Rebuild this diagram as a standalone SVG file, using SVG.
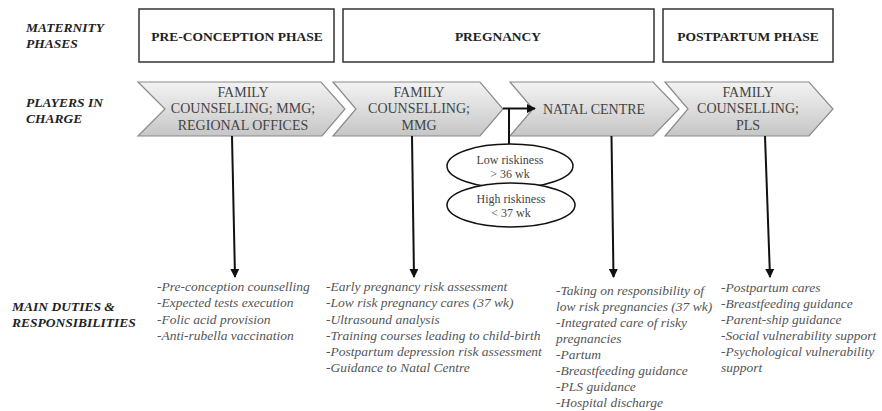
<svg xmlns="http://www.w3.org/2000/svg" width="882" height="411" viewBox="0 0 882 411">
  <defs>
    <linearGradient id="chevFill" x1="0" y1="0" x2="0" y2="1">
      <stop offset="0" stop-color="#f3f3f3"/>
      <stop offset="1" stop-color="#c6c6c6"/>
    </linearGradient>
    <marker id="arrow" viewBox="0 0 10 10" refX="9" refY="5" markerWidth="5" markerHeight="5" orient="auto" markerUnits="userSpaceOnUse">
      <path d="M0,0 L10,5 L0,10 Z" fill="#111"/>
    </marker>
    <marker id="arrowBig" viewBox="0 0 10 10" refX="9" refY="5" markerWidth="9" markerHeight="9" orient="auto" markerUnits="userSpaceOnUse">
      <path d="M0,0 L10,5 L0,10 Z" fill="#111"/>
    </marker>
  </defs>
  <style>
    .rowlabel { font-family: "Liberation Serif", "Times New Roman", serif; font-size: 13.5px; font-weight: bold; font-style: italic; fill: #222; }
    .phase { fill: #fff; stroke: #333; stroke-width: 1.5; }
    .phasetext { font-family: "Liberation Serif", "Times New Roman", serif; font-size: 13.5px; font-weight: bold; fill: #222; text-anchor: middle; }
    .chev { fill: url(#chevFill); stroke: #8a8a8a; stroke-width: 1.2; }
    .chevtext { font-family: "Liberation Serif", "Times New Roman", serif; font-size: 14px; fill: #444; text-anchor: middle; }
    .oval { fill: #fff; stroke: #111; stroke-width: 1.5; }
    .ovaltext { font-family: "Liberation Serif", "Times New Roman", serif; font-size: 12px; fill: #444; text-anchor: middle; }
    .duty { font-family: "Liberation Serif", "Times New Roman", serif; font-size: 13.5px; font-style: italic; fill: #555; }
    .link { stroke: #111; stroke-width: 2; fill: none; }
  </style>

  <!-- Row labels -->
  <g id="row-labels">
    <text class="rowlabel" x="26" y="32">MATERNITY</text>
    <text class="rowlabel" x="26" y="48">PHASES</text>
    <text class="rowlabel" x="26" y="107">PLAYERS IN</text>
    <text class="rowlabel" x="26" y="123">CHARGE</text>
    <text class="rowlabel" x="12" y="311">MAIN DUTIES &amp;</text>
    <text class="rowlabel" x="12" y="327">RESPONSIBILITIES</text>
  </g>

  <!-- Maternity phases -->
  <g id="phase-preconception">
    <rect class="phase" x="139" y="9" width="195" height="53"/>
    <text class="phasetext" x="237" y="41">PRE-CONCEPTION PHASE</text>
  </g>
  <g id="phase-pregnancy">
    <rect class="phase" x="343" y="9" width="311" height="53"/>
    <text class="phasetext" x="498" y="41">PREGNANCY</text>
  </g>
  <g id="phase-postpartum">
    <rect class="phase" x="663" y="9" width="170" height="53"/>
    <text class="phasetext" x="748" y="41">POSTPARTUM PHASE</text>
  </g>

  <!-- Players in charge -->
  <g id="player-family-mmg-regional">
    <polygon class="chev" points="138,82 321,82 345,109 322,136 138,136 165,109"/>
    <text class="chevtext" x="243" y="97">FAMILY</text>
    <text class="chevtext" x="243" y="113">COUNSELLING; MMG;</text>
    <text class="chevtext" x="243" y="130">REGIONAL OFFICES</text>
  </g>
  <g id="player-family-mmg">
    <polygon class="chev" points="333,82 480,82 503,109 480,136 333,136 356,109"/>
    <text class="chevtext" x="419" y="97">FAMILY</text>
    <text class="chevtext" x="419" y="113">COUNSELLING;</text>
    <text class="chevtext" x="419" y="130">MMG</text>
  </g>
  <g id="player-natal-centre">
    <polygon class="chev" points="510,82 653,82 679,109 653,136 510,136 533,109"/>
    <text class="chevtext" x="594" y="114">NATAL CENTRE</text>
  </g>
  <g id="player-family-pls">
    <polygon class="chev" points="665,82 809,82 833,109 809,136 665,136 688,109"/>
    <text class="chevtext" x="748" y="97">FAMILY</text>
    <text class="chevtext" x="748" y="113">COUNSELLING;</text>
    <text class="chevtext" x="748" y="130">PLS</text>
  </g>

  <!-- Connectors -->
  <g id="connectors">
    <line class="link" x1="232" y1="136" x2="235" y2="277" marker-end="url(#arrowBig)"/>
    <line class="link" x1="412" y1="136" x2="414" y2="277" marker-end="url(#arrowBig)"/>
    <line class="link" x1="611.5" y1="136" x2="613.5" y2="277" marker-end="url(#arrowBig)"/>
    <line class="link" x1="765" y1="136" x2="770" y2="277" marker-end="url(#arrowBig)"/>
    <polyline class="link" points="509,146 509,108.5"/>
    <line class="link" x1="503" y1="108.5" x2="535" y2="108.5" marker-end="url(#arrowBig)"/>
  </g>

  <!-- Riskiness split -->
  <g id="risk-low">
    <ellipse class="oval" cx="510" cy="166" rx="63" ry="22"/>
    <text class="ovaltext" x="510" y="164">Low riskiness</text>
    <text class="ovaltext" x="510" y="178">&gt; 36 wk</text>
  </g>
  <g id="risk-high">
    <ellipse class="oval" cx="511" cy="205" rx="64" ry="22"/>
    <text class="ovaltext" x="511" y="203">High riskiness</text>
    <text class="ovaltext" x="511" y="217">&lt; 37 wk</text>
  </g>

  <!-- Main duties & responsibilities -->
  <g id="duties-preconception">
    <text class="duty" x="157" y="291">-Pre-conception counselling</text>
    <text class="duty" x="157" y="307">-Expected tests execution</text>
    <text class="duty" x="157" y="324">-Folic acid provision</text>
    <text class="duty" x="157" y="340">-Anti-rubella vaccination</text>
  </g>
  <g id="duties-family-mmg">
    <text class="duty" x="326" y="291">-Early pregnancy risk assessment</text>
    <text class="duty" x="326" y="307">-Low risk pregnancy cares (37 wk)</text>
    <text class="duty" x="326" y="324">-Ultrasound analysis</text>
    <text class="duty" x="326" y="340">-Training courses leading to child-birth</text>
    <text class="duty" x="326" y="356">-Postpartum depression risk assessment</text>
    <text class="duty" x="326" y="372">-Guidance to Natal Centre</text>
  </g>
  <g id="duties-natal-centre">
    <text class="duty" x="556" y="295">-Taking on responsibility of</text>
    <text class="duty" x="556" y="311">low risk pregnancies (37 wk)</text>
    <text class="duty" x="556" y="327">-Integrated care of risky</text>
    <text class="duty" x="556" y="343">pregnancies</text>
    <text class="duty" x="556" y="359">-Partum</text>
    <text class="duty" x="556" y="375">-Breastfeeding guidance</text>
    <text class="duty" x="556" y="391">-PLS guidance</text>
    <text class="duty" x="556" y="407">-Hospital discharge</text>
  </g>
  <g id="duties-family-pls">
    <text class="duty" x="721" y="292">-Postpartum cares</text>
    <text class="duty" x="721" y="308">-Breastfeeding guidance</text>
    <text class="duty" x="721" y="324">-Parent-ship guidance</text>
    <text class="duty" x="721" y="340">-Social vulnerability support</text>
    <text class="duty" x="721" y="356">-Psychological vulnerability</text>
    <text class="duty" x="721" y="372">support</text>
  </g>
</svg>
